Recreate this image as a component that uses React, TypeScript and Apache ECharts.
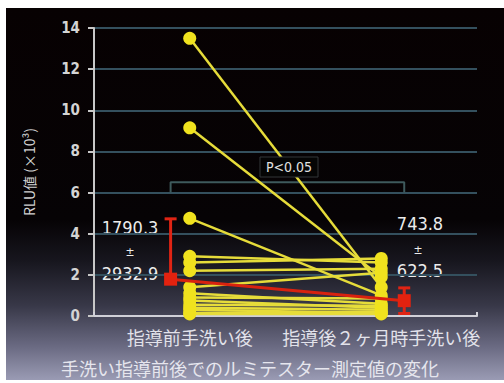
import React, { useEffect, useRef } from "react";
import * as echarts from "echarts";

const categories = ["指導前手洗い後", "指導後２ヶ月時手洗い後"];
const beforeValues = [13.5, 9.15, 4.75, 2.9, 2.6, 2.2, 1.4, 1.1, 0.9, 0.75, 0.55, 0.4, 0.3, 0.15, 0.1];
const afterValues = [1.4, 1.9, 1.0, 2.6, 2.8, 2.3, 2.1, 0.6, 0.85, 0.4, 0.5, 0.3, 0.15, 0.2, 0.1];
const meanRaw = [1790.3, 743.8];
const sdRaw = [2932.9, 622.5];
const yTicks = { min: 0, max: 14, interval: 2 };
const pLabel = "P<0.05";
const bracketLow = 6.0;
const bracketHigh = 6.5;
const yAxisName = "RLU値 (×10³)";
const title = "手洗い指導前後でのルミテスター測定値の変化";

export default function App() {
  const ref = useRef<HTMLDivElement>(null);
  useEffect(() => {
    if (!ref.current) return;
    const chart = echarts.init(ref.current, null, { renderer: "svg" });
    const meanPos = [0.4, 1.62];
    const means = meanRaw.map((v) => v / 1000);
    const sds = sdRaw.map((v) => v / 1000);
    const redData = means.map((m, i) => [meanPos[i], m]);
    const errData = means.map((m, i) => [meanPos[i], m - sds[i], m + sds[i]]);

    const yellowSeries = beforeValues.map((b, i) => ({
      type: "line",
      xAxisIndex: 0,
      data: [b, afterValues[i]],
      symbol: "circle",
      symbolSize: 13,
      itemStyle: { color: "#f0e21e" },
      lineStyle: { color: "#e6dc3a", width: 2.5 },
      z: 3,
    }));

    const numFont = "'DejaVu Sans Condensed', 'DejaVu Sans', sans-serif";
    const jpFont = "'Noto Sans CJK JP', sans-serif";

    chart.setOption({
      animation: false,
      backgroundColor: {
        type: "linear",
        x: 0, y: 0, x2: 0, y2: 1,
        colorStops: [
          { offset: 0, color: "#070102" },
          { offset: 0.57, color: "#060305" },
          { offset: 0.68, color: "#17161e" },
          { offset: 0.8, color: "#383848" },
          { offset: 0.91, color: "#6a6a82" },
          { offset: 1, color: "#9a9bb4" },
        ],
      },
      grid: { left: 88, right: 27, top: 20, bottom: 64 },
      xAxis: [
        {
          type: "category",
          data: categories,
          boundaryGap: true,
          axisLine: { lineStyle: { color: "#d0d0d8", width: 2 } },
          axisTick: { show: true, inside: true, length: 4, lineStyle: { color: "#d0d0d8", width: 2 } },
          axisLabel: { color: "#e2e2ea", fontSize: 18, fontFamily: jpFont, margin: 12, interval: 0, hideOverlap: false },
          splitLine: { show: false },
        },
        {
          type: "value",
          min: 0,
          max: 2,
          show: false,
        },
      ],
      yAxis: {
        type: "value",
        min: yTicks.min,
        max: yTicks.max,
        interval: yTicks.interval,
        name: yAxisName,
        nameLocation: "middle",
        nameGap: 58,
        nameTextStyle: { color: "#d0d0d0", fontSize: 14, fontFamily: jpFont },
        axisLine: { show: true, lineStyle: { color: "#c8c8c8", width: 2 } },
        axisTick: { show: true, length: 6, lineStyle: { color: "#c8c8c8", width: 2 } },
        axisLabel: { color: "#d4d4d4", fontSize: 15, fontWeight: "bold", fontFamily: numFont, margin: 14 },
        splitLine: { lineStyle: { color: "#34505e", width: 2 } },
      },
      series: [
        ...yellowSeries,
        {
          type: "line",
          xAxisIndex: 1,
          data: [
            [meanPos[0], bracketLow],
            [meanPos[0], bracketHigh],
            [meanPos[1], bracketHigh],
            [meanPos[1], bracketLow],
          ],
          symbol: "none",
          lineStyle: { color: "#3e5a5c", width: 2 },
          z: 2,
        },
        {
          type: "custom",
          xAxisIndex: 1,
          data: errData,
          z: 4,
          renderItem: (params: any, api: any) => {
            const x = api.value(0);
            const m = means[params.dataIndex];
            const lo = api.value(1);
            const hi = api.value(2);
            const pm = api.coord([x, m]);
            const ph = api.coord([x, hi]);
            const children: any[] = [
              { type: "line", shape: { x1: pm[0], y1: pm[1], x2: ph[0], y2: ph[1] }, style: { stroke: "#e02414", lineWidth: 3 } },
              { type: "line", shape: { x1: ph[0] - 6, y1: ph[1], x2: ph[0] + 6, y2: ph[1] }, style: { stroke: "#e02414", lineWidth: 3 } },
            ];
            if (lo > 0) {
              const pl = api.coord([x, lo]);
              children.push(
                { type: "line", shape: { x1: pm[0], y1: pm[1], x2: pl[0], y2: pl[1] }, style: { stroke: "#e02414", lineWidth: 3 } },
                { type: "line", shape: { x1: pl[0] - 6, y1: pl[1], x2: pl[0] + 6, y2: pl[1] }, style: { stroke: "#e02414", lineWidth: 3 } }
              );
            }
            return { type: "group", children };
          },
        },
        {
          type: "line",
          xAxisIndex: 1,
          data: redData,
          symbol: "rect",
          symbolSize: 13,
          itemStyle: { color: "#e3220f" },
          lineStyle: { color: "#d8220f", width: 3 },
          z: 5,
        },
      ],
      graphic: [
        { type: "text", x: 124, y: 219, style: { text: meanRaw[0].toFixed(1), fill: "#ececec", font: `18px ${numFont}`, align: "center", verticalAlign: "middle" } },
        { type: "text", x: 124, y: 244, style: { text: "±", fill: "#ececec", font: `12px ${numFont}`, align: "center", verticalAlign: "middle" } },
        { type: "text", x: 124, y: 265, style: { text: sdRaw[0].toFixed(1), fill: "#ececec", font: `18px ${numFont}`, align: "center", verticalAlign: "middle" } },
        { type: "text", x: 414, y: 215, style: { text: meanRaw[1].toFixed(1), fill: "#ececec", font: `18px ${numFont}`, align: "center", verticalAlign: "middle" } },
        { type: "text", x: 412, y: 242, style: { text: "±", fill: "#ececec", font: `12px ${numFont}`, align: "center", verticalAlign: "middle" } },
        { type: "text", x: 414, y: 262, style: { text: sdRaw[1].toFixed(1), fill: "#ececec", font: `18px ${numFont}`, align: "center", verticalAlign: "middle" } },
        { type: "rect", shape: { x: 254, y: 149, width: 58, height: 20 }, style: { fill: "#050505", stroke: "#333638", lineWidth: 1 }, z: 10 },
        { type: "text", x: 283, y: 159, z: 11, style: { text: pLabel, fill: "#e0e0e0", font: `14px ${numFont}`, align: "center", verticalAlign: "middle" } },
        { type: "text", x: 244, y: 360, style: { text: title, fill: "#e6e6ee", font: `18px ${jpFont}`, align: "center", verticalAlign: "middle" } },
      ],
    });
    return () => chart.dispose();
  }, []);
  return (
    <div
      ref={ref}
      style={{ position: "absolute", left: 6, top: 8, width: 498, height: 372 }}
    />
  );
}
